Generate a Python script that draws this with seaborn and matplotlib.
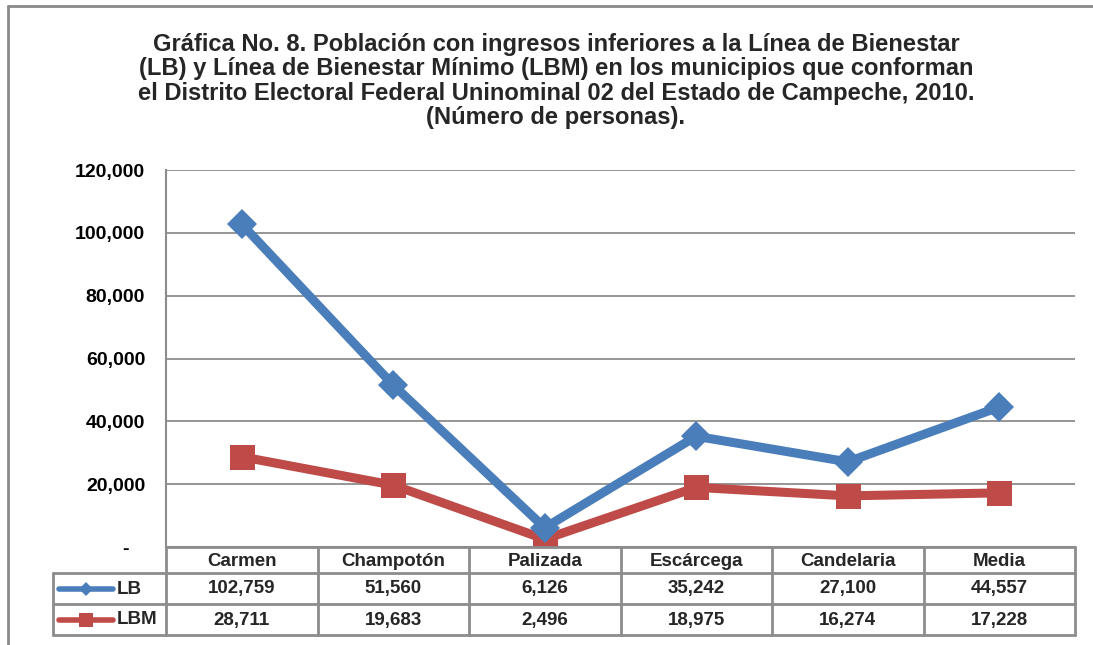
import numpy as np
import pandas as pd
import seaborn as sns
import matplotlib.pyplot as plt
from matplotlib.lines import Line2D
from matplotlib.ticker import FuncFormatter

# chart data
municipios = ["Carmen", "Champotón", "Palizada", "Escárcega", "Candelaria", "Media"]
lb = [102759, 51560, 6126, 35242, 27100, 44557]
lbm = [28711, 19683, 2496, 18975, 16274, 17228]
y_ticks = [0, 20000, 40000, 60000, 80000, 100000, 120000]

titulo = ("Gráfica No. 8. Población con ingresos inferiores a la Línea de Bienestar\n"
          "(LB) y Línea de Bienestar Mínimo (LBM) en los municipios que conforman\n"
          "el Distrito Electoral Federal Uninominal 02 del Estado de Campeche, 2010.\n"
          "(Número de personas).")

BLUE = "#4a7ebb"
RED = "#be4b48"
GRID = "#8c8c8c"

W, H = 1093, 645
sns.set_theme(style="white")
plt.rcParams["font.family"] = ["Liberation Sans", "DejaVu Sans"]
plt.rcParams["font.weight"] = "bold"

fig = plt.figure(figsize=(W / 100, H / 100), dpi=100)


def fx(x):
    return x / W


def fy(y):
    return 1 - y / H


def hline(x0, x1, y, color=GRID, lw=1.5):
    fig.add_artist(Line2D([fx(x0), fx(x1)], [fy(y), fy(y)], color=color, lw=lw))


def vline(x, y0, y1, color=GRID, lw=1.5):
    fig.add_artist(Line2D([fx(x), fx(x)], [fy(y0), fy(y1)], color=color, lw=lw))


# plot area
left, right, top, bottom = 166, 1075, 170, 547
ax = fig.add_axes([fx(left), fy(bottom), fx(right) - fx(left), fy(top) - fy(bottom)])

df = pd.DataFrame({"Municipio": municipios, "LB": lb, "LBM": lbm})
sns.lineplot(data=df, x="Municipio", y="LB", ax=ax, color=BLUE, lw=6.5,
             marker="D", markersize=15.5, markeredgewidth=0, sort=False, zorder=4)
sns.lineplot(data=df, x="Municipio", y="LBM", ax=ax, color=RED, lw=6.5,
             marker="s", markersize=18, markeredgewidth=0, sort=False, zorder=3)

ax.set_xlim(-0.5, len(municipios) - 0.5)
ax.set_ylim(0, 120000)
ax.set_yticks(y_ticks)
ax.yaxis.set_major_formatter(FuncFormatter(lambda v, p: "-   " if v == 0 else f"{int(v):,}"))
ax.tick_params(axis="y", length=0, pad=15, labelsize=14, labelcolor="black")
ax.set_xticks([])
ax.set_xlabel("")
ax.set_ylabel("")
ax.grid(axis="y", color=GRID, lw=1.3)
for lbl in ax.get_yticklabels():
    lbl.set_fontweight("bold")
for s in ["top", "right"]:
    ax.spines[s].set_visible(False)
for s in ["left", "bottom"]:
    ax.spines[s].set_color(GRID)
    ax.spines[s].set_linewidth(1.5)

# title
fig.text(fx(556), fy(81), titulo, ha="center", va="center", fontsize=17.1,
         fontweight="bold", linespacing=1.09)

# outer frame
hline(8, W, 6, color="#8a8a8a", lw=2)
vline(8, 6, H, color="#8a8a8a", lw=2)

# data table below the plot
col_w = (right - left) / len(municipios)
rows_y = [547, 573, 604, 635]
hline(left, right, rows_y[0], lw=2)
for y in rows_y[1:]:
    hline(53, right, y, lw=2)
vline(53, rows_y[1], rows_y[3], lw=2)
for i in range(len(municipios) + 1):
    vline(left + i * col_w, rows_y[0], rows_y[3], lw=2)

fs = 13.5
for i, name in enumerate(municipios):
    cx = fx(left + (i + 0.5) * col_w)
    fig.text(cx, fy(561), name, ha="center", va="center", fontsize=fs, fontweight="bold")
    fig.text(cx, fy(589), f"{lb[i]:,}", ha="center", va="center", fontsize=fs, fontweight="bold")
    fig.text(cx, fy(620), f"{lbm[i]:,}", ha="center", va="center", fontsize=fs, fontweight="bold")

# legend keys in the table
for y, color, mk, ms, name in [(589, BLUE, "D", 7, "LB"), (620, RED, "s", 10, "LBM")]:
    fig.add_artist(Line2D([fx(59), fx(113)], [fy(y), fy(y)], color=color, lw=4,
                          solid_capstyle="round"))
    fig.add_artist(Line2D([fx(86)], [fy(y)], color=color, marker=mk, markersize=ms,
                          markeredgewidth=0))
    fig.text(fx(117), fy(y), name, ha="left", va="center", fontsize=fs, fontweight="bold")

fig.savefig("out.png", dpi=100)
